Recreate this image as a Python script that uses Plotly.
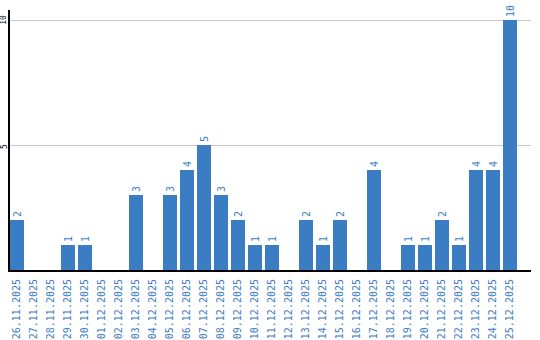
import plotly.graph_objects as go

dates = ["26.11.2025", "27.11.2025", "28.11.2025", "29.11.2025", "30.11.2025",
         "01.12.2025", "02.12.2025", "03.12.2025", "04.12.2025", "05.12.2025",
         "06.12.2025", "07.12.2025", "08.12.2025", "09.12.2025", "10.12.2025",
         "11.12.2025", "12.12.2025", "13.12.2025", "14.12.2025", "15.12.2025",
         "16.12.2025", "17.12.2025", "18.12.2025", "19.12.2025", "20.12.2025",
         "21.12.2025", "22.12.2025", "23.12.2025", "24.12.2025", "25.12.2025"]
values = [2, 0, 0, 1, 1, 0, 0, 3, 0, 3, 4, 5, 3, 2, 1, 1, 0, 2, 1, 2,
          0, 4, 0, 1, 1, 2, 1, 4, 4, 10]
y_ticks = [5, 10]

blue = "#3b7dc2"
bar_w = 0.82
idx = list(range(len(dates)))

fig = go.Figure(go.Bar(
    x=idx, y=values, width=bar_w, offset=0,
    marker=dict(color=blue, line=dict(width=0)),
    text=[str(v) if v else "" for v in values],
    textposition="outside", textangle=-90, constraintext="none",
    textfont=dict(color=blue, size=10, family="DejaVu Sans Mono"),
    cliponaxis=False,
))

for t in y_ticks:
    label = str(t)
    fig.add_annotation(
        x=0, xref="paper", y=t, yref="y",
        text=label, textangle=-90, showarrow=False,
        xanchor="center", yanchor="middle",
        xshift=-6, yshift=-(4.5 - 2.4 * len(label)),
        borderpad=0,
        font=dict(color="black", size=8, family="DejaVu Sans Mono"),
    )

fig.update_layout(
    width=540, height=340,
    margin=dict(l=10, r=9, t=10, b=70),
    plot_bgcolor="white", paper_bgcolor="white",
    showlegend=False, bargap=0,
    xaxis=dict(
        range=[0, 30.65],
        tickmode="array",
        tickvals=[i + bar_w / 2 for i in idx],
        ticktext=dates,
        tickangle=-90,
        tickfont=dict(color=blue, size=10, family="DejaVu Sans Mono"),
        showgrid=False, zeroline=False,
        showline=True, linecolor="black", linewidth=2,
        ticks="outside", ticklen=3, tickcolor="rgba(0,0,0,0)",
        automargin=False, fixedrange=True,
    ),
    yaxis=dict(
        range=[0, 10.4],
        tickmode="array", tickvals=y_ticks,
        showticklabels=False,
        showgrid=True, gridcolor="#c8c8c8", gridwidth=1,
        zeroline=False,
        showline=True, linecolor="black", linewidth=2,
        ticks="", automargin=False,
    ),
)

fig.write_html("out.html")
